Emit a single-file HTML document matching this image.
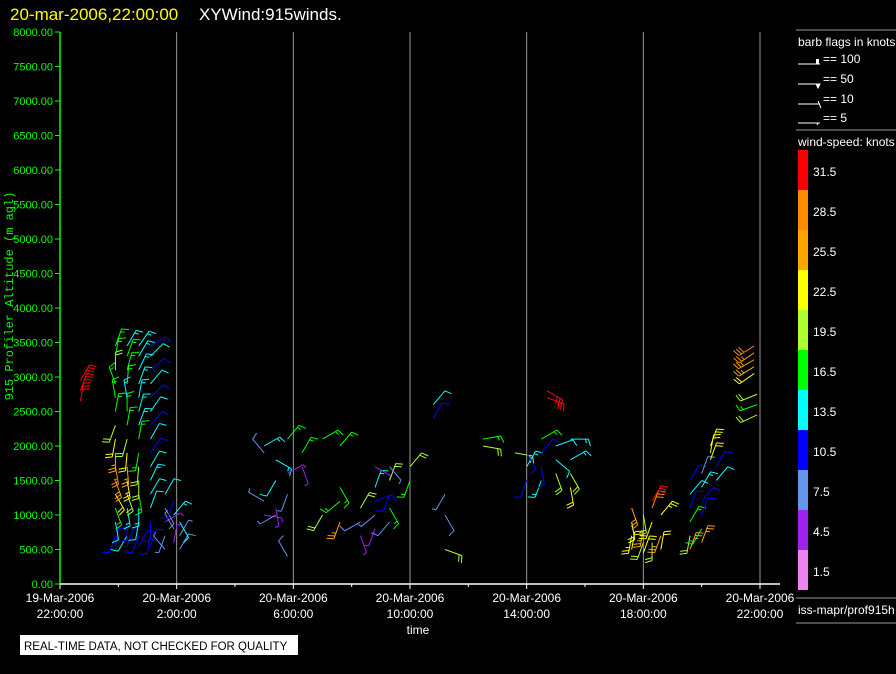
<!DOCTYPE html>
<html><head><meta charset="utf-8">
<style>
body{margin:0;background:#000;width:896px;height:674px;overflow:hidden;font-family:"Liberation Sans",sans-serif;}
svg{display:block}
</style></head>
<body>
<svg id="chart" width="896" height="674" xmlns="http://www.w3.org/2000/svg">
<rect x="0" y="0" width="896" height="674" fill="#000"/>
<text x="10" y="20" fill="#ffff00" font-size="17">20-mar-2006,22:00:00</text>
<text x="199" y="20" fill="#fff" font-size="17">XYWind:915winds.</text>
<g id="grid"></g>
<g id="barbs"></g>
<g id="axes"></g>
<text transform="translate(13,296) rotate(-90)" text-anchor="middle" fill="#00ff00" font-size="12" font-family="Liberation Mono, monospace">915 Profiler Altitude (m agl)</text>
<text x="418" y="634" text-anchor="middle" fill="#fff" font-size="12">time</text>
<rect x="20" y="635" width="278" height="20" fill="#fff"/>
<text x="24" y="650" fill="#000" font-size="11.5">REAL-TIME DATA, NOT CHECKED FOR QUALITY</text>
<g id="legend">
<line x1="796" y1="30" x2="896" y2="30" stroke="#999"/>
<text x="798" y="46" fill="#fff" font-size="12">barb flags in knots</text>
<line x1="796" y1="130" x2="896" y2="130" stroke="#999"/>
<text x="798" y="146" fill="#fff" font-size="12">wind-speed: knots</text>
<line x1="796" y1="598" x2="896" y2="598" stroke="#999"/>
<text x="798" y="614" fill="#fff" font-size="12">iss-mapr/prof915h</text>
<line x1="796" y1="623" x2="896" y2="623" stroke="#999"/>
</g>
</svg>
<script>
const yTicks=[0,500,1000,1500,2000,2500,3000,3500,4000,4500,5000,5500,6000,6500,7000,7500,8000];
const xTickHours=[0,4,8,12,16,20,24];
const xTickDates=["19-Mar-2006","20-Mar-2006","20-Mar-2006","20-Mar-2006","20-Mar-2006","20-Mar-2006","20-Mar-2006"];
const xTickTimes=["22:00:00","2:00:00","6:00:00","10:00:00","14:00:00","18:00:00","22:00:00"];
const colorBins=[31.5,28.5,25.5,22.5,19.5,16.5,13.5,10.5,7.5,4.5,1.5];
const binColors=["#ff0000","#ff8c00","#ffa500","#ffff00","#adff2f","#00ff00","#00ffff","#0000ff","#6495ed","#a020f0","#ee82ee"];
const legendFlags=[100,50,10,5];
const profileHour=[0.7,1.9,2.3,2.7,3.1,3.6,3.9,4.1,7.0,7.4,7.8,8.3,9.0,9.6,10.3,10.8,11.3,12.0,12.8,13.2,14.5,15.6,16.0,16.5,16.7,17.0,17.5,19.6,20.0,20.3,20.6,21.6,22.0,22.3,22.5,23.9,23.8];
const profileAlts=[
[2650,2800,2950],
[550,700,900,1100,1300,1500,1700,1900,2100,2300,2500,2700,2900,3100,3300,3450],
[550,700,900,1100,1300,1500,1700,1900,2100,2300,2500,2700,2900,3100,3300,3450],
[550,700,900,1100,1300,1500,1700,1900,2100,2300,2500,2700,2900,3100,3300,3450],
[550,700,900,1100,1300,1500,1700,1900,2100,2300,2500,2700,2900,3100,3300,3450],
[500,700,900,1100,1300],
[600,800,1000,1200],
[500,700,900],
[1000,1200,1900,2000],
[1000,1100,1500,1800],
[400,1300,1600,2100],
[1700,1900],
[1000,2100],
[900,1200,1400,2000],
[700,900,1100],
[800,1000,1200,1400,1700],
[900,1100,1300,1500,1700],
[1500,1700],
[2400,2600],
[500,1000,1300],
[2000,2100],
[1900],
[1500,1700,1900],
[1500,1700,1900,2100],
[2700,2800],
[1600,1800,2000],
[1400,1600,1800,2100],
[500,700,900,1100],
[450,600,800,1000],
[600,900,1100,1200],
[500,700,1000],
[500,700,900,1100,1300,1500],
[600,800,1000,1200,1400,1600],
[1800,1900,2000],
[1500,1700],
[2450,2600,2750],
[3050,3150,3250,3350,3450]];
const profileSpeeds=[
[32,31,33],
[9,11,12,16,21,25,27,24,22,18,17,16,17,18,17,16],
[10,12,11,14,19,23,24,22,20,17,15,14,15,16,15,14],
[11,10,12,13,15,18,20,17,15,14,13,14,13,14,13,14],
[9,10,11,12,12,13,12,11,12,11,12,11,12,11,12,11],
[6,7,5,8,12],
[5,7,13,9],
[8,6,12],
[5,6,8,13],
[7,5,12,14],
[8,6,4,17],
[5,16],
[18,17],
[26,17,16,16],
[5,8,18],
[5,7,10,13,5],
[8,17,9,18,7],
[17,19],
[11,12],
[20,8,7],
[20,15],
[18],
[10,14,11],
[13,10,9,16],
[31,32],
[20,12,12],
[22,20,14,13],
[21,23,22,25],
[22,20,24,19],
[19,21,29,32],
[21,24,23],
[24,20,15,11,12,11],
[26,17,10,9,14,8],
[22,21,22],
[12,10],
[20,17,19],
[22,24,26,27,28]];
const profileDirs=[
[10,20,30],
[10,200,170,160,150,160,170,180,190,200,10,350,340,0,10,20],
[20,210,180,170,160,170,175,185,195,10,0,350,5,15,20,30],
[30,200,190,180,170,180,185,190,10,20,15,10,20,25,30,35],
[20,190,180,20,30,25,30,35,30,40,35,45,40,50,45,60],
[320,200,60,150,30],
[10,330,40,200],
[30,30,150],
[100,300,320,60],
[240,170,210,120],
[330,200,60,40],
[160,30],
[210,60],
[200,230,150,40],
[160,240,30],
[200,230,70,20,120],
[220,150,200,20,140],
[200,40],
[30,40],
[110,150,210],
[100,80],
[100],
[200,30,150],
[200,170,40,60],
[110,120],
[160,130,70],
[170,150,60,90],
[10,190,170,160],
[20,200,190,170],
[180,200,20,30],
[10,200,40],
[20,190,30,20,40,30],
[20,210,20,40,30,20],
[20,10,20],
[40,30],
[245,250,248],
[235,238,240,236,238]];

const NS="http://www.w3.org/2000/svg";
const X0=60,X1=760,Y0=584,Y1=32;
function xScale(h){return X0+(h/24)*(X1-X0);}
function yScale(a){return Y0-(a/8000)*(Y0-Y1);}
function colorFor(s){let i=Math.floor(s/3);if(i>10)i=10;if(i<0)i=0;return binColors[10-i];}
function mk(tag,attrs,parent){const e=document.createElementNS(NS,tag);for(const k in attrs)e.setAttribute(k,attrs[k]);parent.appendChild(e);return e;}

const grid=document.getElementById('grid');
const axes=document.getElementById('axes');
const barbsG=document.getElementById('barbs');
const legend=document.getElementById('legend');

xTickHours.forEach((h,i)=>{
  if(i>0){const gl=mk('line',{x1:xScale(h),y1:Y1,x2:xScale(h),y2:Y0,stroke:'#999'},grid);
  
  }
  const t1=mk('text',{x:xScale(h),y:602,'text-anchor':'middle',fill:'#fff','font-size':'12'},axes);t1.textContent=xTickDates[i];
  
  
  const t2=mk('text',{x:xScale(h),y:618,'text-anchor':'middle',fill:'#fff','font-size':'12'},axes);t2.textContent=xTickTimes[i];
  
  
  mk('line',{x1:xScale(h),y1:Y0,x2:xScale(h),y2:Y0+5,stroke:'#fff'},axes);
  if(h<24)mk('line',{x1:xScale(h+2),y1:Y0,x2:xScale(h+2),y2:Y0+3,stroke:'#fff'},axes);
});
mk('line',{x1:X0,y1:Y1,x2:X0,y2:Y0,stroke:'#00ff00','stroke-width':1.5},axes);
mk('line',{x1:X0,y1:Y0,x2:X1+20,y2:Y0,stroke:'#fff','stroke-width':1.5},axes);
yTicks.forEach(v=>{
  mk('line',{x1:X0-5,y1:yScale(v),x2:X0,y2:yScale(v),stroke:'#00ff00'},axes);
  const t=mk('text',{x:X0-7,y:yScale(v)+4,'text-anchor':'end',fill:'#00ff00','font-size':'11'},axes);t.textContent=v.toFixed(2);
  
  
});

function drawBarb(x,y,spd,dir,col,parent){
  const L=18,r=dir*Math.PI/180;
  const dx=Math.sin(r),dy=-Math.cos(r);
  const ex=x+L*dx,ey=y+L*dy;
  const g=mk('g',{stroke:col,'stroke-width':1,fill:'none'},parent);
  
  
  mk('line',{x1:x,y1:y,x2:ex,y2:ey},g);
  let s=Math.round(spd/5)*5,pos=0;
  const px=-dy,py=dx;
  while(s>=10){const bx=ex-dx*pos,by=ey-dy*pos;mk('line',{x1:bx,y1:by,x2:bx+px*7+dx*2,y2:by+py*7+dy*2},g);pos+=3;s-=10;}
  if(s>=5){const bx=ex-dx*pos,by=ey-dy*pos;mk('line',{x1:bx,y1:by,x2:bx+px*4+dx*1,y2:by+py*4+dy*1},g);}
}
profileHour.forEach((h,i)=>{
  profileAlts[i].forEach((a,j)=>{
    const s=profileSpeeds[i][j];
    drawBarb(xScale(h),yScale(a),s,profileDirs[i][j],colorFor(s),barbsG);
  });
});

const lgY=[64,84,104,123];
legendFlags.forEach((f,i)=>{
  const y=lgY[i];
  const g=mk('g',{stroke:'#fff',fill:'#fff'},legend);
  
  
  mk('line',{x1:798,y1:y,x2:820,y2:y},g);
  if(f===100)mk('rect',{x:816,y:y-5,width:3,height:5,stroke:'none'},g);
  else if(f===50)mk('polygon',{points:`816,${y} 820,${y} 818,${y+4}`},g);
  else if(f===10)mk('line',{x1:818,y1:y-3,x2:821,y2:y+4},g);
  else mk('line',{x1:818,y1:y,x2:817,y2:y+2},g);
  const t=mk('text',{x:823,y:y-1,fill:'#fff',stroke:'none','font-size':'12'},legend);t.textContent='== '+f;
  
  
});
colorBins.forEach((v,i)=>{
  const r=mk('rect',{x:798,y:150+i*40,width:10,height:40,fill:binColors[i]},legend);
  
  
  const t=mk('text',{x:813,y:176+i*40,fill:'#fff','font-size':'12'},legend);t.textContent=v.toFixed(1);
  
  
});
</script>
</body></html>
